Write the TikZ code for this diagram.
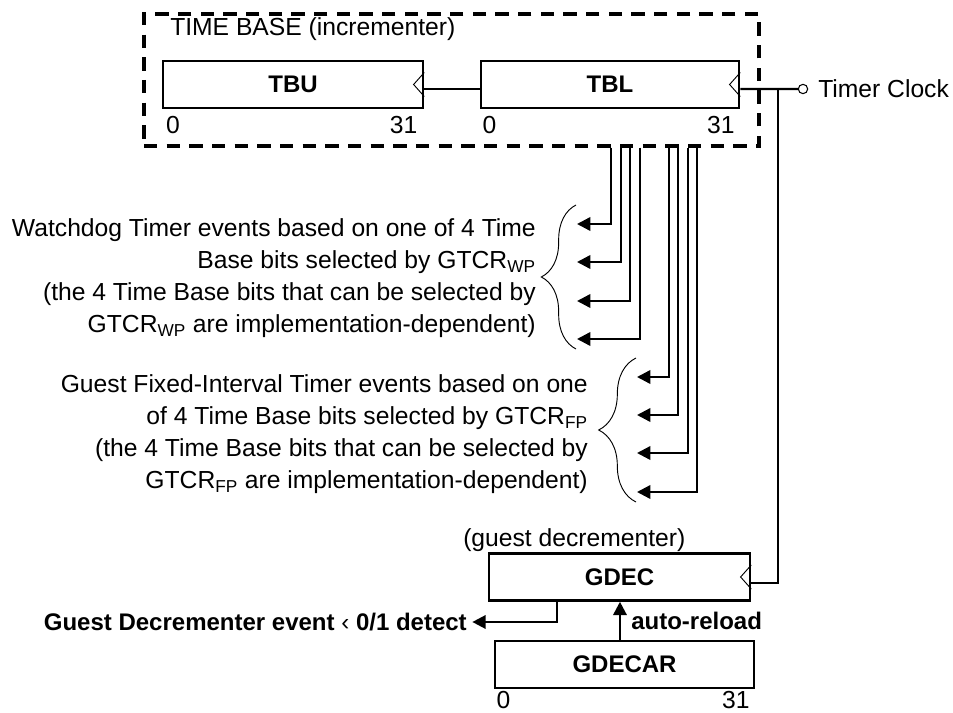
\documentclass[tikz,border=0pt]{standalone}
\usepackage{fontspec}
\setmainfont{Liberation Sans}
\usetikzlibrary{arrows.meta,decorations.pathreplacing,calc}

\begin{document}
\begin{tikzpicture}[x=0.75pt, y=-0.75pt,
    font=\fontsize{18.5}{24}\selectfont,
    reg/.style={draw, rectangle, line width=1.9pt, minimum height=35.25pt, inner sep=0pt, font=\fontsize{18}{24}\selectfont\bfseries},
    wire/.style={line width=1.8pt},
    tap/.style={line width=1.8pt, -{Triangle[length=10pt,width=10pt]}},
    clk/.style={line width=0.7pt},
    bits/.style={inner sep=0pt},
    note/.style={align=right, inner sep=0pt},
    curly/.style={decorate, decoration={brace, amplitude=#1}, line width=0.7pt}
]
    \useasboundingbox (0,0) rectangle (953,713);

    % time base
    \node[draw, line width=2.3pt, dash pattern=on 10pt off 7pt, minimum width=461.25pt, minimum height=99pt, inner sep=0pt] (tb) at (451.5,80) {};
    \node[anchor=base west, inner sep=0pt] (tbtitle) at (170,36) {TIME BASE (incrementer)};

    \node[reg, minimum width=195pt] (tbu) at (293,84.5) {TBU};
    \node[reg, minimum width=193.5pt] (tbl) at (610,84.5) {TBL};

    \node[bits, anchor=base west] (tbu0) at ([xshift=3pt,yshift=-18pt]tbu.south west) {0};
    \node[bits, anchor=base east] (tbu31) at ([xshift=-5pt,yshift=-18pt]tbu.south east) {31};
    \node[bits, anchor=base west] (tbl0) at ([xshift=2pt,yshift=-18pt]tbl.south west) {0};
    \node[bits, anchor=base east] (tbl31) at ([xshift=-4pt,yshift=-18pt]tbl.south east) {31};

    \draw[clk] ([yshift=9pt]tbu.east) -- ([xshift=-8pt]tbu.east) -- ([yshift=-9pt]tbu.east);
    \draw[clk] ([yshift=9pt]tbl.east) -- ([xshift=-8pt]tbl.east) -- ([yshift=-9pt]tbl.east);

    \draw[wire] ([yshift=-3.4pt]tbl.west) -- ([yshift=-3.4pt]tbu.east);

    % clock input
    \node[circle, draw, line width=0.8pt, minimum size=7pt, inner sep=0pt] (clkin) at (803,89) {};
    \node[anchor=west, inner sep=0pt] (clktext) at (818,89) {Timer Clock};
    \draw[wire] ([yshift=-3.4pt]tbl.east) -- (clkin.west);

    % guest decrementer
    \node[anchor=base west, inner sep=0pt] (gdectitle) at (463,546) {(guest decrementer)};
    \node[reg, minimum width=195.75pt] (gdec) at (619.5,577) {GDEC};
    \node[reg, minimum width=194.25pt] (gdecar) at (624.5,664.5) {GDECAR};
    \draw[clk] ([yshift=9pt]gdec.east) -- ([xshift=-8pt]gdec.east) -- ([yshift=-9pt]gdec.east);

    \node[bits, anchor=base west] (gdecar0) at ([xshift=2pt,yshift=-14.5pt]gdecar.south west) {0};
    \node[bits, anchor=base east] (gdecar31) at ([xshift=-4pt,yshift=-14.5pt]gdecar.south east) {31};

    \coordinate (bus) at (778,89);
    \draw[wire] (bus) |- ([yshift=-4.5pt]gdec.east);

    \node[anchor=east, inner sep=0pt, font=\fontsize{18}{24}\selectfont\bfseries] (event) at (467,622) {Guest Decrementer event {\mdseries‹} 0/1 detect};
    \draw[tap, shorten >=4pt] ([xshift=51.75pt]gdec.south west) |- (event.east);

    \draw[tap] ([xshift=-3.4pt]gdecar.north) -- ([xshift=-3.4pt]gdecar.north |- gdec.south);
    \node[anchor=west, inner sep=0pt, font=\fontsize{18}{24}\selectfont\bfseries] (reload) at (631,621) {auto-reload};

    % watchdog taps
    \foreach \x/\y [count=\i] in {611/224, 621/262, 630/301, 640/339} {
        \coordinate (wp\i) at (577,\y);
        \coordinate (wpup\i) at (\x,\y);
        \draw[tap] (wpup\i |- tb.south) |- (wp\i);
    }
    % fixed-interval taps
    \foreach \x/\y [count=\i] in {669/377, 678/415, 688/453, 697/492} {
        \coordinate (fp\i) at (637,\y);
        \coordinate (fpup\i) at (\x,\y);
        \draw[tap] (fpup\i |- tb.south) |- (fp\i);
    }

    \draw[curly=26pt] (576,349) -- (576,205);
    \draw[curly=28pt] (636,502) -- (636,358);

    \node[note, anchor=east] (wpnote) at (536,278) {Watchdog Timer events based on one of 4 Time\\
        Base bits selected by GTCR\textsubscript{WP}\\
        (the 4 Time Base bits that can be selected by\\
        GTCR\textsubscript{WP} are implementation-dependent)};
    \node[note, anchor=east] (fpnote) at (588,434) {Guest Fixed-Interval Timer events based on one\\
        of 4 Time Base bits selected by GTCR\textsubscript{FP}\\
        (the 4 Time Base bits that can be selected by\\
        GTCR\textsubscript{FP} are implementation-dependent)};

\end{tikzpicture}
\end{document}
